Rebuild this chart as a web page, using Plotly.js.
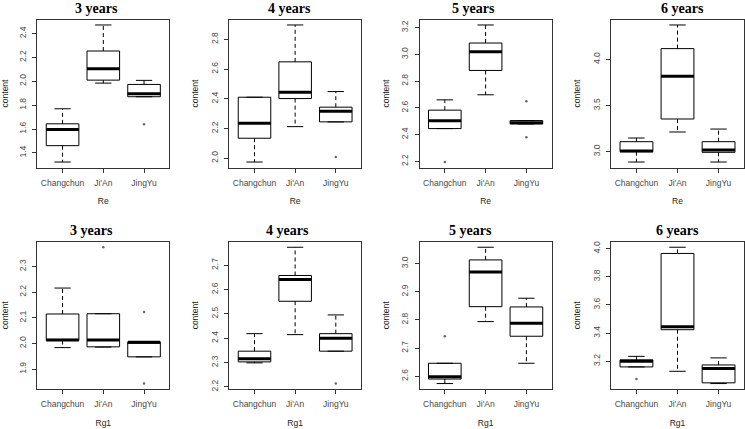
<!DOCTYPE html>
<html>
<head>
<meta charset="utf-8">
<script src="https://cdn.plot.ly/plotly-3.0.1.min.js"></script>
<style>
html,body{margin:0;padding:0;background:#ffffff;}
#chart{width:745px;height:429px;}
</style>
</head>
<body>
<div id="chart"></div>
<script>
// ---------- data ----------
const categories = ["Changchun", "Ji'An", "JingYu"];
const panelTitles = ["3 years", "4 years", "5 years", "6 years", "3 years", "4 years", "5 years", "6 years"];
const panelCompound = ["Re", "Re", "Re", "Re", "Rg1", "Rg1", "Rg1", "Rg1"];
const yAxisLabel = "content";

// per panel: [Changchun, Ji'An, JingYu]
const lowerWhisker = [
  [1.324, 1.985, 1.871], [1.975, 2.213, 2.245], [2.445, 2.698, 2.480], [2.888, 3.213, 2.888],
  [1.984, 1.986, 1.948], [2.299, 2.415, 2.347], [2.574, 2.794, 2.646], [3.160, 3.129, 3.042]
];
const quartile1 = [
  [1.461, 2.010, 1.871], [2.135, 2.402, 2.245], [2.445, 2.880, 2.480], [3.000, 3.354, 2.993],
  [2.012, 1.987, 1.948], [2.303, 2.552, 2.347], [2.590, 2.847, 2.742], [3.160, 3.424, 3.047]
];
const medians = [
  [1.596, 2.106, 1.896], [2.236, 2.445, 2.317], [2.503, 3.020, 2.488], [3.007, 3.816, 3.018],
  [2.014, 2.014, 2.005], [2.316, 2.641, 2.400], [2.598, 2.970, 2.788], [3.200, 3.445, 3.148]
];
const quartile3 = [
  [1.644, 2.254, 1.974], [2.411, 2.649, 2.344], [2.583, 3.085, 2.505], [3.108, 4.116, 3.108],
  [2.115, 2.116, 2.005], [2.347, 2.658, 2.419], [2.646, 3.013, 2.846], [3.210, 3.965, 3.174]
];
const upperWhisker = [
  [1.770, 2.472, 2.008], [2.411, 2.897, 2.449], [2.660, 3.220, 2.505], [3.148, 4.372, 3.245],
  [2.216, 2.116, 2.005], [2.419, 2.774, 2.496], [2.646, 3.058, 2.877], [3.235, 4.009, 3.224]
];
const outliers = [
  [[], [], [1.640]], [[], [], [2.009]], [[2.195], [], [2.650, 2.380]], [[], [], []],
  [[], [2.375], [2.123, 1.844]], [[], [], [2.214]], [[2.742], [], []], [[3.075], [], []]
];
const yTickStep = [0.2, 0.2, 0.2, 0.5, 0.1, 0.1, 0.1, 0.2];

// ---------- layout geometry (pixels) ----------
const W = 745, H = 429;
const colLeft = [37.3, 229.3, 419.5, 611];
const colRight = [169.3, 361, 551.7, 744];
const rowTop = [19.5, 241.8];
const rowBottom = [167.5, 389];
const titleX = [[96.3, 289, 473.7, 682], [91.7, 287.5, 470.3, 677.5]];
const titleTop = [0, 221.5];

const INK = "#000000";
const FRAME = "#333333";
const tickFont = {family: "Liberation Sans, Arial, sans-serif", size: 8.5, color: "#484848"};
const labelFont = {family: "Liberation Sans, Arial, sans-serif", size: 8.5, color: "#222222"};
const titleFont = {family: "Liberation Serif, Times New Roman, serif", size: 14, color: "#000000"};

const traces = [];
const layout = {
  width: W, height: H,
  margin: {l: 0, r: 0, t: 0, b: 0},
  paper_bgcolor: "#ffffff", plot_bgcolor: "#ffffff",
  showlegend: false,
  annotations: []
};

for (let p = 0; p < 8; p++) {
  const s = p === 0 ? "" : String(p + 1);
  const xa = "x" + s, ya = "y" + s;
  const row = Math.floor(p / 4), col = p % 4;
  const pos = [1, 2, 3];

  // box bodies
  traces.push({
    type: "box", xaxis: xa, yaxis: ya,
    x: pos, q1: quartile1[p], median: medians[p], q3: quartile3[p],
    lowerfence: quartile1[p], upperfence: quartile3[p],
    width: 0.8, whiskerwidth: 0, boxpoints: false,
    fillcolor: "#ffffff", line: {color: INK, width: 1},
    hoverinfo: "skip", showlegend: false
  });

  // dashed whiskers, staples, medians
  const wx = [], wy = [], cx = [], cy = [], mx = [], my = [];
  for (let j = 0; j < 3; j++) {
    const c = pos[j];
    wx.push(c, c, null, c, c, null);
    wy.push(quartile3[p][j], upperWhisker[p][j], null, quartile1[p][j], lowerWhisker[p][j], null);
    cx.push(c - 0.2, c + 0.2, null, c - 0.2, c + 0.2, null);
    cy.push(upperWhisker[p][j], upperWhisker[p][j], null, lowerWhisker[p][j], lowerWhisker[p][j], null);
    mx.push(c - 0.4, c + 0.4, null);
    my.push(medians[p][j], medians[p][j], null);
  }
  traces.push({type: "scatter", mode: "lines", xaxis: xa, yaxis: ya, x: wx, y: wy,
    line: {color: INK, width: 1, dash: "4px,3px"}, hoverinfo: "skip", showlegend: false});
  traces.push({type: "scatter", mode: "lines", xaxis: xa, yaxis: ya, x: cx, y: cy,
    line: {color: INK, width: 1}, hoverinfo: "skip", showlegend: false});
  traces.push({type: "scatter", mode: "lines", xaxis: xa, yaxis: ya, x: mx, y: my,
    line: {color: INK, width: 3}, hoverinfo: "skip", showlegend: false});

  // outliers
  const ox = [], oy = [];
  for (let j = 0; j < 3; j++) outliers[p][j].forEach(v => { ox.push(pos[j]); oy.push(v); });
  traces.push({type: "scatter", mode: "markers", xaxis: xa, yaxis: ya, x: ox, y: oy,
    marker: {color: "#666666", size: 2.5, symbol: "circle"}, hoverinfo: "skip", showlegend: false});

  // y range like R (data range + 4%)
  let lo = Infinity, hi = -Infinity;
  for (let j = 0; j < 3; j++) {
    lo = Math.min(lo, lowerWhisker[p][j], ...outliers[p][j]);
    hi = Math.max(hi, upperWhisker[p][j], ...outliers[p][j]);
  }
  const pad = (hi - lo) * 0.04;

  layout["xaxis" + s] = {
    domain: [colLeft[col] / W, colRight[col] / W],
    anchor: ya, range: [0.38, 3.62],
    tickmode: "array", tickvals: pos, ticktext: categories,
    ticks: "outside", ticklen: 4, tickwidth: 1, tickcolor: FRAME,
    ticklabelstandoff: 3,
    showline: true, mirror: true, linecolor: FRAME, linewidth: 1,
    showgrid: false, zeroline: false, fixedrange: true,
    tickfont: tickFont,
    title: {text: panelCompound[p], font: labelFont, standoff: 11}
  };
  layout["yaxis" + s] = {
    domain: [1 - rowBottom[row] / H, 1 - rowTop[row] / H],
    anchor: xa, range: [lo - pad, hi + pad],
    tick0: 0, dtick: yTickStep[p], tickformat: ".1f", tickangle: -90,
    ticks: "outside", ticklen: 4, tickwidth: 1, tickcolor: FRAME,
    ticklabelstandoff: 3,
    showline: true, mirror: true, linecolor: FRAME, linewidth: 1,
    showgrid: false, zeroline: false, fixedrange: true,
    tickfont: tickFont,
    title: {text: yAxisLabel, font: labelFont, standoff: 9}
  };

  layout.annotations.push({
    xref: "paper", yref: "paper",
    x: titleX[row][col] / W, y: 1 - titleTop[row] / H,
    xanchor: "center", yanchor: "top", borderpad: 0,
    text: "<b>" + panelTitles[p] + "</b>", showarrow: false, font: titleFont
  });
}

Plotly.newPlot("chart", traces, layout, {staticPlot: true, displayModeBar: false});
</script>
</body>
</html>
